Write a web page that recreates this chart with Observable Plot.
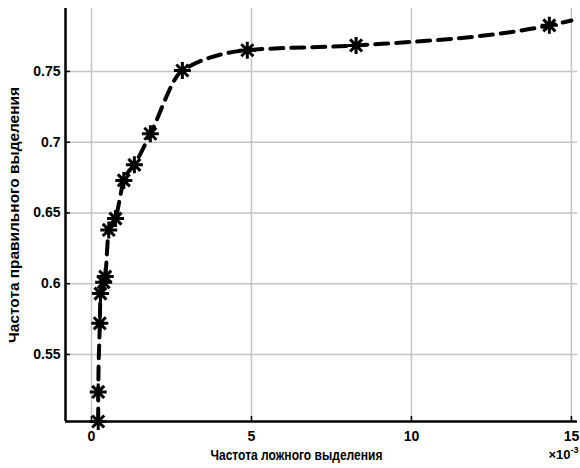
<!DOCTYPE html>
<html><head><meta charset="utf-8">
<script src="https://cdn.jsdelivr.net/npm/d3@7"></script>
<script src="https://cdn.jsdelivr.net/npm/@observablehq/plot@0.6"></script>
<style>body{margin:0;background:#fff}</style>
</head><body><div id="chart"></div>
<script>
// False detection rate (×10^-3) and true detection rate at each marked point
const falseRate = [0.21, 0.21, 0.26, 0.28, 0.38, 0.43, 0.54, 0.75, 1.01, 1.34, 1.84, 2.84, 4.87, 8.27, 14.31];
const trueRate  = [0.5026, 0.5235, 0.572, 0.593, 0.601, 0.605, 0.638, 0.646, 0.673, 0.684, 0.706, 0.7507, 0.765, 0.7684, 0.7826];
// curve continues past the last marker to the right edge
const curveEndX = [15.0];
const curveEndY = [0.786];

const xTicks = [0, 5, 10, 15];
const xTickLabels = ["0", "5", "10", "15"];
const yTicks = [0.55, 0.6, 0.65, 0.7, 0.75];
const yTickLabels = ["0.55", "0.6", "0.65", "0.7", "0.75"];

const xLabel = "Частота ложного выделения";
const yLabel = "Частота правильного выделения";
const xExponentBase = "×10";
const xExponentPower = "-3";

const xDomain = [-0.8125, 15.19];
const yDomain = [0.5026, 0.7945];

const markers = falseRate.map((x, i) => ({x, y: trueRate[i]}));
const curve = markers.concat(curveEndX.map((x, i) => ({x, y: curveEndY[i]})));

const asterisk = {
  draw(ctx, size) {
    const r = Math.sqrt(size / Math.PI);
    const d = r * Math.SQRT1_2;
    ctx.moveTo(-r, 0); ctx.lineTo(r, 0);
    ctx.moveTo(0, -r); ctx.lineTo(0, r);
    ctx.moveTo(-d, -d); ctx.lineTo(d, d);
    ctx.moveTo(-d, d); ctx.lineTo(d, -d);
  }
};

const font = "'Liberation Sans', Arial, sans-serif";
const tickLenX = 5 / 32;
const tickLenY = 5 / 1417;

const chart = Plot.plot({
  width: 580, height: 468,
  marginLeft: 65, marginRight: 3, marginTop: 8, marginBottom: 47,
  style: {fontFamily: font, fontSize: "14px", fontWeight: "bold", color: "#000", background: "#fff"},
  x: {domain: xDomain, axis: null},
  y: {domain: yDomain, axis: null},
  marks: [
    Plot.ruleX(xTicks, {x: d => d, stroke: "#c4c4c4", strokeWidth: 1.5, strokeOpacity: 1}),
    Plot.ruleY(yTicks, {y: d => d, stroke: "#c4c4c4", strokeWidth: 1.5, strokeOpacity: 1}),
    Plot.ruleX(xTicks, {x: d => d, y1: yDomain[0], y2: yDomain[0] + tickLenY, stroke: "#000", strokeWidth: 1.5}),
    Plot.ruleY(yTicks, {y: d => d, x1: xDomain[0], x2: xDomain[0] + tickLenX, stroke: "#000", strokeWidth: 1.5}),
    Plot.ruleY([yDomain[0]], {stroke: "#000", strokeWidth: 2.5}),
    Plot.ruleX([xDomain[0]], {stroke: "#000", strokeWidth: 2.5}),
    Plot.line(curve, {x: "x", y: "y", curve: "monotone-x", stroke: "#000", strokeWidth: 4, strokeDasharray: "13,8"}),
    Plot.dot(markers, {x: "x", y: "y", symbol: asterisk, r: 8.5, stroke: "#000", strokeWidth: 3, fill: "none"}),
    Plot.text(xTicks, {x: d => d, y: yDomain[0], text: (d, i) => xTickLabels[i], dy: 15, fill: "#000"}),
    Plot.text(yTicks, {x: xDomain[0], y: d => d, text: (d, i) => yTickLabels[i], dx: -5, textAnchor: "end", fill: "#000"}),
    Plot.text([xLabel], {frameAnchor: "bottom", text: d => d, dy: 38, dx: -25, fill: "#000", fontSize: 15, className: "xlab"}),
    Plot.text([xExponentBase], {frameAnchor: "bottom-right", text: d => d, dy: 37, dx: -7, textAnchor: "end", fill: "#000", fontSize: 13}),
    Plot.text([xExponentPower], {frameAnchor: "bottom-right", text: d => d, dy: 31, dx: 1, textAnchor: "end", fill: "#000", fontSize: 9}),
    Plot.text([yLabel], {frameAnchor: "left", text: d => d, rotate: -90, dx: -51, textAnchor: "middle", fill: "#000", fontSize: 14, className: "ylab"})
  ]
});
document.getElementById("chart").appendChild(chart);
const xl = chart.querySelector(".xlab text");
if (xl) { xl.setAttribute("textLength", "172"); xl.setAttribute("lengthAdjust", "spacingAndGlyphs"); }
const yl = chart.querySelector(".ylab text");
if (yl) { yl.setAttribute("textLength", "256"); yl.setAttribute("lengthAdjust", "spacingAndGlyphs"); }
</script>
</body></html>
